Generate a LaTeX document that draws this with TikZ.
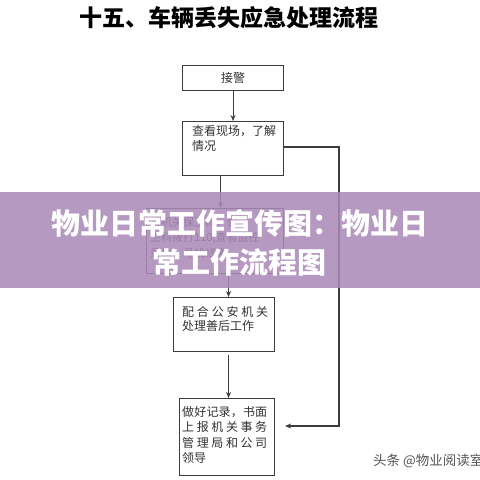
\documentclass[tikz,border=0pt]{standalone}
\usepackage{fontspec}
\newfontfamily\cjk{Noto Sans CJK SC}
\usetikzlibrary{arrows.meta}
\definecolor{linec}{RGB}{60,60,60}
\definecolor{textc}{RGB}{50,50,50}
\definecolor{bandc}{RGB}{170,137,182}
\definecolor{wmc}{RGB}{85,85,85}
\newcommand{\hs}{\hfill}
\tikzset{
  box/.style={draw=linec, line width=1.1pt, fill=white, inner sep=0pt, anchor=north west},
  txt/.style={text=textc, inner sep=0pt, anchor=north west, align=left, font=\cjk\fontsize{12}{15.5}\selectfont},
  arr/.style={draw=linec, line width=1.1pt, -{Stealth[length=6pt,width=5pt]}},
  lin/.style={draw=linec, line width=1.1pt},
}
\begin{document}
\begin{tikzpicture}[x=1pt,y=-1pt]
\useasboundingbox (0,0) rectangle (480,480);
\fill[white] (0,0) rectangle (480,480);
% title
\node[font=\cjk\bfseries\fontsize{23}{25}\selectfont, text=black, inner sep=0pt] (title) at (229,18) {十五、车辆丢失应急处理流程};
% boxes
\node[box, minimum width=101pt, minimum height=25pt] (b1) at (182,65) {};
\node[txt, anchor=center] (t1) at (b1.center) {接警};
\node[box, minimum width=101pt, minimum height=54pt] (b2) at (182,121) {};
\node[txt] (t2) at ([shift={(10,4)}]b2.north west) {查看现场，了解\\情况};
\node[box, minimum width=137pt, minimum height=65pt] (b3) at (146,208) {};
\node[txt, font=\cjk\fontsize{11}{15.5}\selectfont] (t3) at ([shift={(4,9)}]b3.north west) {报机关保卫科，保\\卫科拨打110,查看监控\\录像，寻找线索};
\node[box, minimum width=101pt, minimum height=54pt] (b4) at (173,297) {};
\node[txt, font=\cjk\fontsize{12}{14}\selectfont] (t4) at ([shift={(9,9)}]b4.north west) {\makebox[86pt][s]{配\hs 合\hs 公\hs 安\hs 机\hs 关}\\处理善后工作};
\node[box, minimum width=95pt, minimum height=77pt] (b5) at (179,398) {};
\node[txt] (t5) at ([shift={(3,8)}]b5.north west) {\makebox[85pt][s]{做\hs 好\hs 记\hs 录\hs ，\hs 书\hs 面}\\\makebox[85pt][s]{上\hs 报\hs 机\hs 关\hs 事\hs 务}\\\makebox[85pt][s]{管\hs 理\hs 局\hs 和\hs 公\hs 司}\\领导};
% connectors
\draw[arr] (b1.south) -- (b2.north);
\draw[arr] ([xshift=-12.5pt]b2.south) -- ([xshift=-12.5pt]b2.south |- b3.north);
\draw[arr] ([xshift=13.5pt]b3.south) -- ([xshift=13.5pt]b3.south |- b4.north);
\draw[arr, shorten <=3pt] ([xshift=4.5pt]b4.south) -- ([xshift=4.5pt]b4.south |- b5.north);
\coordinate (c1) at (339,147);
\coordinate (c2) at (339,426);
\draw[arr, shorten >=10pt] (b2.east |- c1) -- (c1) -- (c2) -- (b5.east |- c2);
% watermark
\node[font=\cjk\fontsize{13.5}{15}\selectfont, text=wmc, anchor=west, inner sep=0pt] (wm) at (373,461) {头条 @物业阅读室};
% band
\fill[bandc, opacity=0.86] (0,192) rectangle (480,288);
\node[font=\cjk\bfseries\fontsize{29}{39}\selectfont, text=white, inner sep=0pt, align=center] (band) at (240,243) {物业日常工作宣传图：物业日\\常工作流程图};
\end{tikzpicture}
\end{document}
